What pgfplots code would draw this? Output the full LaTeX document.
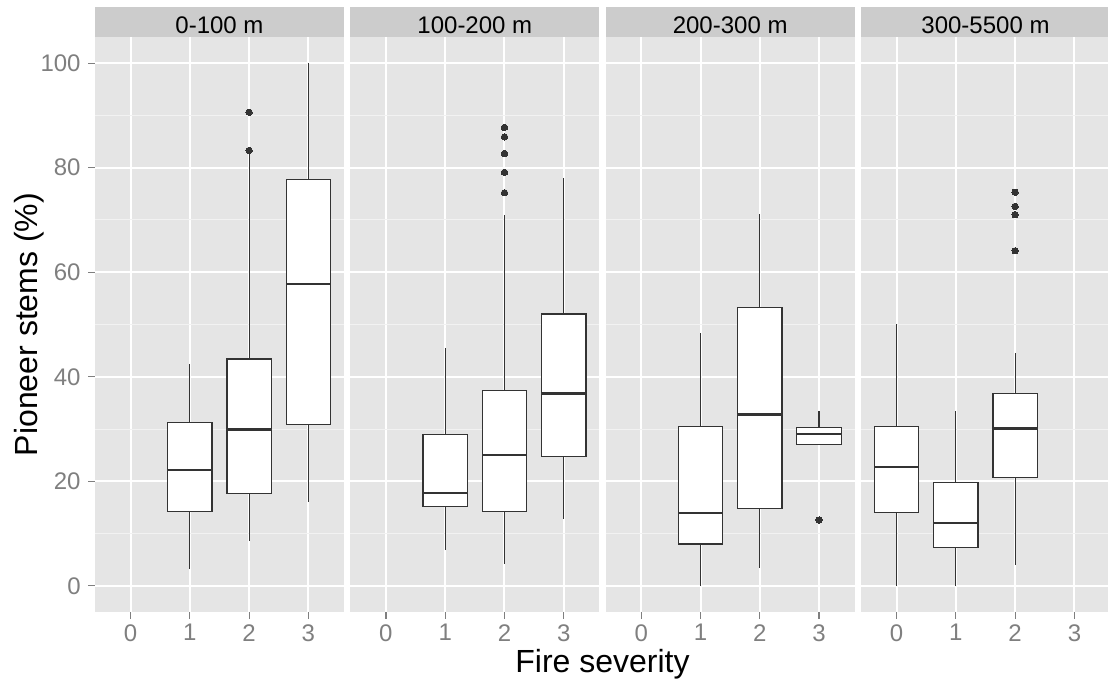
\documentclass[border=0pt]{standalone}
\usepackage{fontspec}
\setmainfont{Liberation Sans}
\usepackage{pgfplots}
\pgfplotsset{compat=1.18}
\usepgfplotslibrary{statistics}
\definecolor{bg}{HTML}{E5E5E5}
\definecolor{stripc}{HTML}{CCCCCC}
\definecolor{minorg}{HTML}{F2F2F2}
\definecolor{tickg}{HTML}{7F7F7F}
\definecolor{boxc}{HTML}{333333}
\pgfplotsset{
 panel/.style={
  scale only axis, width=124.5pt, height=287.5pt,
  anchor=south west,
  xmin=-0.6, xmax=3.6, ymin=-5, ymax=105,
  xtick={0,1,2,3}, ytick={0,20,...,100}, minor ytick={10,30,...,90},
  axis line style={draw=none},
  axis background/.style={fill=bg},
  ymajorgrids, yminorgrids, xmajorgrids,
  major grid style={white, line width=1pt},
  minor grid style={minorg, line width=0.5pt},
  tick align=outside, xtick pos=left, ytick pos=left,
  major tick length=3.5pt, minor tick length=0pt,
  tick style={tickg, line width=0.6pt},
  /pgf/number format/assume math mode=true,
  tick label style={font=\fontsize{12}{14}\selectfont, text=tickg},
  xticklabel style={anchor=north, inner sep=0pt, yshift=-2.5pt},
  yticklabel style={anchor=east, inner sep=0pt, xshift=-3.5pt},
  clip=false,
 },
 bx/.style={boxplot prepared={draw direction=y, box extend=0.75, whisker extend=0, #1},
   boxplot/every median/.style={line width=1.1pt},
   draw=boxc, fill=white, line width=0.6pt, solid,
   mark=*, mark size=1.6pt, mark options={fill=boxc, draw=boxc, line width=0pt}},
 noy/.style={yticklabels={}, ytick style={draw=none}},
}
\newcommand{\strip}[2]{%
  \fill[stripc] (#1.north west) rectangle ([yshift=15pt]#1.north east);
  \node[anchor=base, font=\fontsize{12}{14}\selectfont, inner sep=0pt] at ([yshift=1.85pt]#1.north) {#2};}
\begin{document}
\begin{tikzpicture}
\begin{axis}[panel, name=a1, at={(47.5pt,33.5pt)}]
\addplot[bx={draw position=1, lower whisker=3.3, lower quartile=14.2, median=22.1, upper quartile=31.3, upper whisker=42.4}] coordinates {};
\addplot[bx={draw position=2, lower whisker=8.5, lower quartile=17.7, median=29.9, upper quartile=43.4, upper whisker=82.7}] table[row sep=\\, y index=0] {90.6\\ 83.3\\};
\addplot[bx={draw position=3, lower whisker=16.1, lower quartile=30.8, median=57.7, upper quartile=77.8, upper whisker=100}] coordinates {};
\end{axis}
\begin{axis}[panel, noy, name=a2, at={(175.17pt,33.5pt)}]
\addplot[bx={draw position=1, lower whisker=6.9, lower quartile=15.2, median=17.8, upper quartile=29.0, upper whisker=45.5}] coordinates {};
\addplot[bx={draw position=2, lower whisker=4.1, lower quartile=14.2, median=25.1, upper quartile=37.3, upper whisker=71.0}] table[row sep=\\, y index=0] {87.7\\ 85.9\\ 82.7\\ 79.1\\ 75.2\\};
\addplot[bx={draw position=3, lower whisker=12.7, lower quartile=24.7, median=36.8, upper quartile=52.0, upper whisker=78.0}] coordinates {};
\end{axis}
\begin{axis}[panel, noy, name=a3, at={(302.83pt,33.5pt)}]
\addplot[bx={draw position=1, lower whisker=0, lower quartile=8.0, median=13.9, upper quartile=30.5, upper whisker=48.4}] coordinates {};
\addplot[bx={draw position=2, lower whisker=3.4, lower quartile=14.8, median=32.8, upper quartile=53.3, upper whisker=71.1}] coordinates {};
\addplot[bx={draw position=3, lower whisker=27.1, lower quartile=27.1, median=29.0, upper quartile=30.3, upper whisker=33.4}] table[row sep=\\, y index=0] {12.6\\};
\end{axis}
\begin{axis}[panel, noy, name=a4, at={(430.5pt,33.5pt)}]
\addplot[bx={draw position=0, lower whisker=0, lower quartile=14.1, median=22.7, upper quartile=30.5, upper whisker=50.0}] coordinates {};
\addplot[bx={draw position=1, lower whisker=0, lower quartile=7.3, median=12.0, upper quartile=19.8, upper whisker=33.4}] coordinates {};
\addplot[bx={draw position=2, lower whisker=4.0, lower quartile=20.7, median=30.1, upper quartile=36.8, upper whisker=44.5}] table[row sep=\\, y index=0] {75.3\\ 72.6\\ 71.0\\ 64.1\\};
\end{axis}
\strip{a1}{0-100 m}
\strip{a2}{100-200 m}
\strip{a3}{200-300 m}
\strip{a4}{300-5500 m}
\node[rotate=90, anchor=base, font=\fontsize{16}{19}\selectfont, inner sep=0pt] at (18.65pt,177.25pt) {Pioneer stems (\%)};
\node[anchor=base, font=\fontsize{16}{19}\selectfont, inner sep=0pt] at (301.25pt,3.15pt) {Fire severity};
\pgfresetboundingbox
\path[use as bounding box] (0,0) rectangle (554pt,339.5pt);
\end{tikzpicture}
\end{document}
